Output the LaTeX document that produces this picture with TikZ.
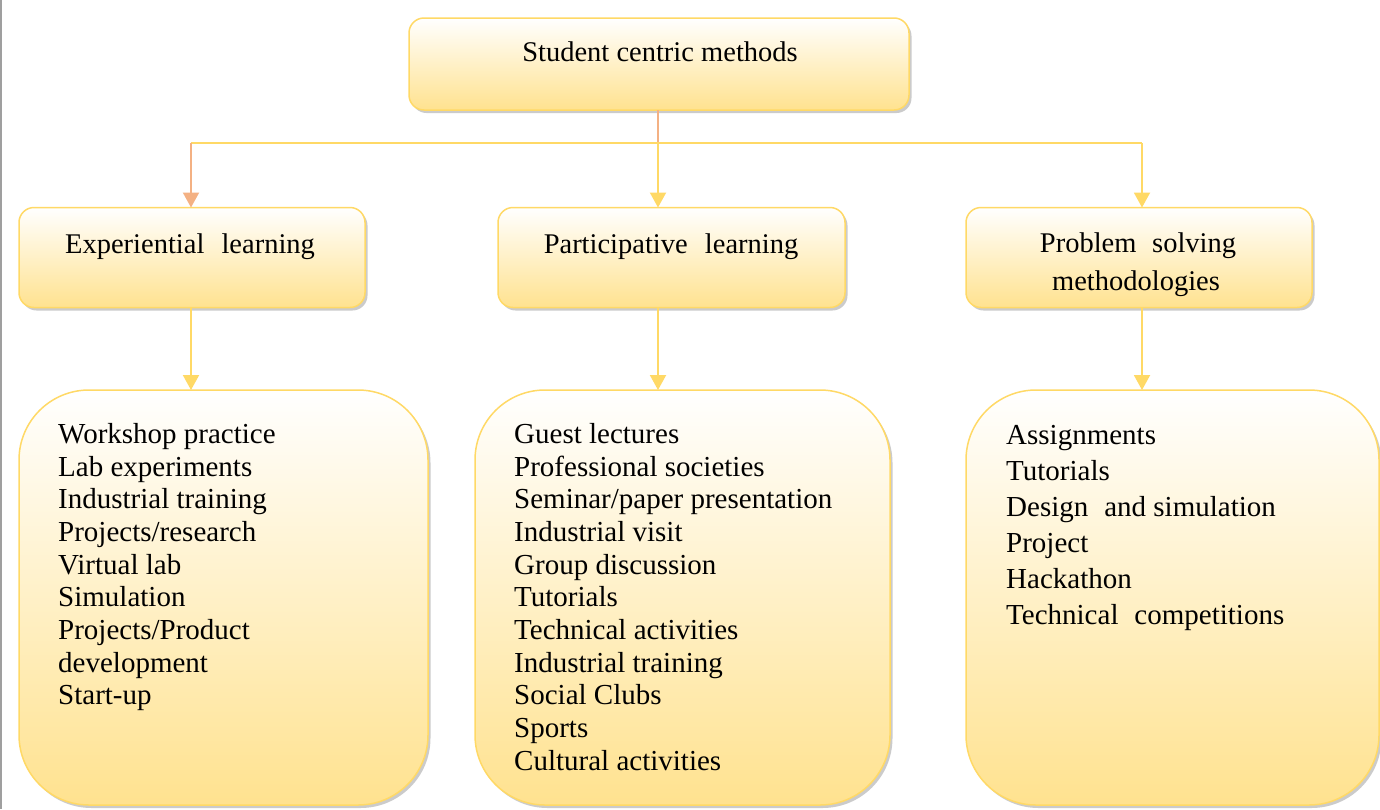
\documentclass[tikz,border=0pt]{standalone}
\usepackage{fontspec}
\setmainfont{Liberation Serif}
\usetikzlibrary{arrows.meta,shadows}
\definecolor{boxline}{HTML}{FFD966}
\definecolor{boxfill}{HTML}{FFE28F}
\definecolor{boxmid}{HTML}{FFF4D6}
\definecolor{linkY}{HTML}{FFD966}
\definecolor{linkO}{HTML}{F4B183}
\tikzset{
  shbox/.style={draw=boxline, line width=1.5pt, top color=white, middle color=boxmid, bottom color=boxfill,
    drop shadow={shadow xshift=2.5pt, shadow yshift=-3pt, fill=black!40, opacity=0.5},
    inner sep=0pt, outer sep=0pt},
  smallbox/.style={shbox, rounded corners=15pt},
  bigbox/.style={shbox, rounded corners=70pt},
  lbl/.style={inner sep=0pt, font=\fontsize{28.5}{32.7}\selectfont},
  lst/.style={lbl, align=left, anchor=north west, font=\fontsize{29}{32.7}\selectfont},
  link/.style={draw=linkY, line width=2pt},
  arr/.style={link, -{Triangle[length=15pt,width=16pt]}},
}
\begin{document}
\begin{tikzpicture}[x=1pt,y=-1pt]
\useasboundingbox (0,0) rectangle (1380,809);
\fill[white] (0,0) rectangle (1380,809);
\draw[gray!75, line width=2.5pt] (1,0) -- (1,809);

% boxes
\node[smallbox, minimum width=500pt, minimum height=92pt] (top) at (659,64) {};
\node[smallbox, minimum width=346pt, minimum height=100pt] (exp) at (192,257.5) {};
\node[smallbox, minimum width=347pt, minimum height=100pt] (par) at (671.5,257.5) {};
\node[smallbox, minimum width=346pt, minimum height=100pt] (prb) at (1139,257.5) {};
\node[bigbox, minimum width=409pt, minimum height=415pt] (expL) at (223.5,597.5) {};
\node[bigbox, minimum width=415pt, minimum height=415pt] (parL) at (682.5,597.5) {};
\node[bigbox, minimum width=413pt, minimum height=415pt] (prbL) at (1172.5,597.5) {};

% texts
\node[lbl, anchor=base] (tTop) at (660,61) {Student centric methods};
\node[lbl, anchor=base] (tExp) at (190,253) {Experiential\hspace{0.35em} learning};
\node[lbl, anchor=base] (tPar) at (671,253) {Participative\hspace{0.35em} learning};
\node[lbl, anchor=base] (tPrb1) at (1138,252) {Problem\hspace{0.3em} solving};
\node[lbl, anchor=base] (tPrb2) at (1136,290) {methodologies};

\node[lst] (lExp) at (58,423) {Workshop practice\\Lab experiments\\Industrial training\\Projects/research\\Virtual lab\\Simulation\\Projects/Product\\development\\Start-up};
\node[lst] (lPar) at (514,423) {Guest lectures\\Professional societies\\Seminar/paper presentation\\Industrial visit\\Group discussion\\Tutorials\\Technical activities\\Industrial training\\Social Clubs\\Sports\\Cultural activities};
\node[lst, font=\fontsize{29}{36}\selectfont] (lPrb) at (1006,425) {Assignments\\Tutorials\\Design\hspace{0.3em} and simulation\\Project\\Hackathon\\Technical\hspace{0.3em} competitions};

% connectors
\coordinate (hL) at (191,143);
\coordinate (hM) at (658,143);
\coordinate (hR) at (1142,143);
\draw[draw=linkO, line width=1.2pt] (top.south -| hM) -- (hM);
\draw[link] (hL) -- (hR);
\draw[arr, draw=linkO, fill=linkO] (hL) -- (hL |- exp.north);
\draw[arr, fill=linkY] (hM) -- (hM |- par.north);
\draw[arr, fill=linkY] (hR) -- (hR |- prb.north);
\draw[arr, fill=linkY] (exp.south -| hL) -- (expL.north -| hL);
\draw[arr, fill=linkY] (par.south -| hM) -- (parL.north -| hM);
\draw[arr, fill=linkY] (prb.south -| hR) -- (prbL.north -| hR);
\end{tikzpicture}
\end{document}
